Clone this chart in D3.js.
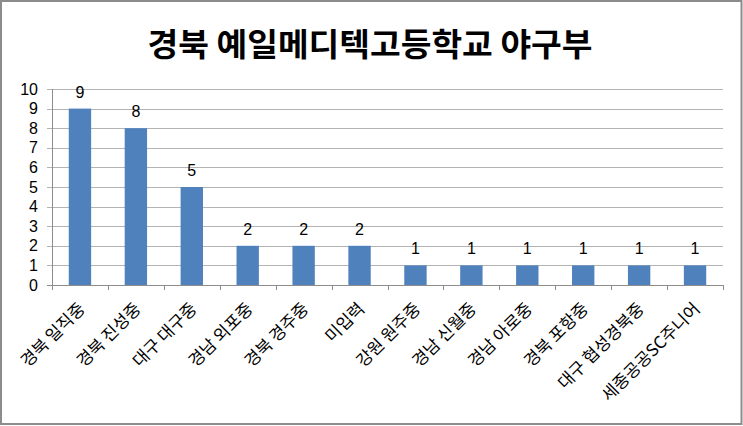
<!DOCTYPE html>
<html>
<head>
<meta charset="utf-8">
<script src="https://cdn.jsdelivr.net/npm/d3@7"></script>
<style>
  body { margin: 0; background: #fff; }
  svg { display: block; }
</style>
</head>
<body>
<div id="container"></div>
<script>
var title = "경북 예일메디텍고등학교 야구부";
var schools = ["경북 일직중", "경북 진성중", "대구 대구중", "경남 외포중", "경북 경주중", "미입력",
    "강원 원주중", "경남 신월중", "경남 아로중", "경북 포항중", "대구 협성경북중", "세종공공SC주니어"];
var counts = [9, 8, 5, 2, 2, 2, 1, 1, 1, 1, 1, 1];
var yTicks = [0, 1, 2, 3, 4, 5, 6, 7, 8, 9, 10];

var W = 743, H = 426;
var margin = { top: 89, right: 20, bottom: 141, left: 52 };
var width = W - margin.left - margin.right;
var height = H - margin.top - margin.bottom;

var root = d3.select("div#container")
    .append("svg")
    .attr("width", W)
    .attr("height", H);

// outer frame
root.append("rect")
    .attr("x", 1).attr("y", 1)
    .attr("width", W - 2.5).attr("height", H - 3)
    .attr("fill", "#fff")
    .attr("stroke", "#8c8c8c")
    .attr("stroke-width", 2);

root.append("text")
    .attr("x", 370)
    .attr("y", 56)
    .attr("text-anchor", "middle")
    .attr("textLength", 445)
    .attr("lengthAdjust", "spacingAndGlyphs")
    .style("font", "bold 32px 'Noto Sans CJK KR'")
    .attr("fill", "#000")
    .text(title);

var svg = root.append("g")
    .attr("transform", "translate(" + margin.left + "," + margin.top + ")");

var x = d3.scaleBand()
    .domain(schools)
    .range([0, width])
    .paddingInner(0.6)
    .paddingOuter(0.3);

var y = d3.scaleLinear()
    .domain([0, 10])
    .range([height, 0]);

// gridlines
svg.append("g")
    .selectAll("line")
    .data(yTicks)
    .enter()
    .append("line")
    .attr("x1", -5)
    .attr("x2", width)
    .attr("y1", function (d) { return Math.round(y(d)) + 0.5; })
    .attr("y2", function (d) { return Math.round(y(d)) + 0.5; })
    .attr("stroke", function (d) { return d === 0 ? "#8c8c8c" : "#b3b3b3"; })
    .attr("stroke-width", 1);

// y axis
svg.append("line")
    .attr("x1", 0.5).attr("x2", 0.5)
    .attr("y1", 0).attr("y2", height)
    .attr("stroke", "#8c8c8c");

svg.append("g")
    .selectAll("text")
    .data(yTicks)
    .enter()
    .append("text")
    .attr("x", -14)
    .attr("y", function (d) { return y(d); })
    .attr("dy", "0.35em")
    .attr("text-anchor", "end")
    .style("font", "16px 'Liberation Sans'")
    .attr("fill", "#000")
    .text(function (d) { return d; });

// x ticks at category boundaries
svg.append("g")
    .selectAll("line")
    .data(d3.range(schools.length + 1))
    .enter()
    .append("line")
    .attr("x1", function (i) { return Math.round(i * width / schools.length) + 0.5; })
    .attr("x2", function (i) { return Math.round(i * width / schools.length) + 0.5; })
    .attr("y1", height)
    .attr("y2", height + 5)
    .attr("stroke", "#8c8c8c");

// bars
svg.selectAll("rect.bar")
    .data(counts)
    .enter()
    .append("rect")
    .attr("class", "bar")
    .attr("x", function (d, i) { return x(schools[i]); })
    .attr("y", function (d) { return y(d); })
    .attr("width", x.bandwidth())
    .attr("height", function (d) { return height - y(d); })
    .attr("fill", "#4f81bd");

// value labels
svg.selectAll("text.val")
    .data(counts)
    .enter()
    .append("text")
    .attr("class", "val")
    .attr("x", function (d, i) { return x(schools[i]) + x.bandwidth() / 2; })
    .attr("y", function (d) { return y(d) - 11; })
    .attr("text-anchor", "middle")
    .style("font", "16px 'Liberation Sans'")
    .attr("fill", "#000")
    .text(function (d) { return d; });

// category labels
svg.selectAll("text.cat")
    .data(schools)
    .enter()
    .append("text")
    .attr("class", "cat")
    .attr("transform", function (d) {
        return "translate(" + (x(d) + x.bandwidth() / 2 + 6) + "," + (height + 25) + ")rotate(-45)";
    })
    .attr("text-anchor", "end")
    .style("font", "17px 'Noto Sans CJK KR'")
    .attr("fill", "#000")
    .text(function (d) { return d; });
</script>
</body>
</html>
